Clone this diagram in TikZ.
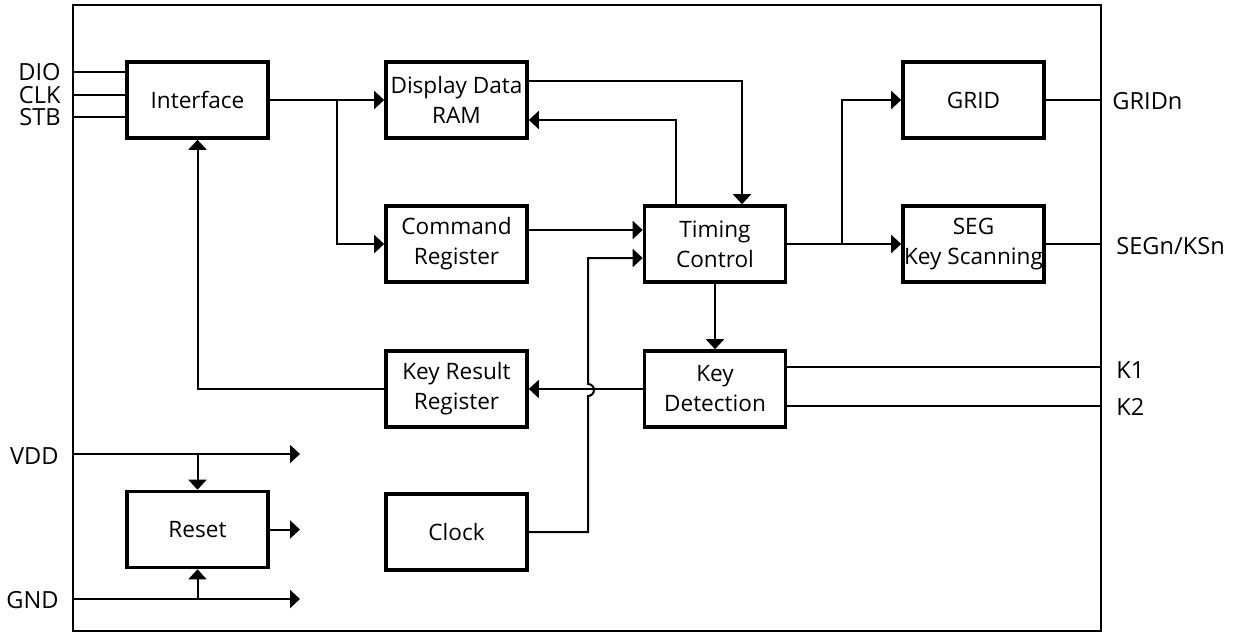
\documentclass[tikz,border=0pt]{standalone}
\usepackage{fontspec}
\setmainfont{Open Sans}
\usetikzlibrary{arrows.meta,calc}

\tikzset{
  blk/.style={draw,line width=1.8pt,minimum width=70.5pt,minimum height=38pt,
    inner sep=0pt,align=center,font=\fontsize{11.3}{15}\selectfont},
  wire/.style={line width=1pt},
  sig/.style={wire,-{Triangle[length=5pt,width=9pt]}},
  pin/.style={inner sep=0pt,font=\fontsize{11.8}{13}\selectfont}
}

\begin{document}
\begin{tikzpicture}[x=0.5pt,y=-0.5pt]
  \useasboundingbox (0,0) rectangle (1236,633);

  % chip outline
  \draw[line width=1pt] (73,5) rectangle (1101,631);
  \coordinate (chipW) at (73,0);
  \coordinate (chipE) at (1101,0);

  % blocks
  \node[blk] (iface)  at (197.5,100) {Interface};
  \node[blk] (ram)    at (456.5,100) {Display Data\\RAM};
  \node[blk] (cmd)    at (456.5,244) {Command\\Register};
  \node[blk] (timing) at (715,244)   {Timing\\Control};
  \node[blk] (grid)   at (973.5,100) {GRID};
  \node[blk] (seg)    at (973.5,244) {SEG\\Key Scanning};
  \node[blk] (krr)    at (456.5,389) {Key Result\\Register};
  \node[blk] (keydet) at (715,389)   {Key\\Detection};
  \node[blk] (reset)  at (197.5,529.5) {Reset};
  \node[blk] (clock)  at (456.5,532) {Clock};

  % serial interface pins
  \foreach \name/\y in {DIO/72,CLK/95,STB/117} {
    \coordinate (p\name) at (73,\y);
    \node[pin,anchor=east] (l\name) at (61,\y) {\name};
    \draw[wire] (p\name) -- (p\name -| iface.west);
  }

  % output and key pins
  \node[pin,anchor=west] (lgrid) at (1112,101) {GRIDn};
  \node[pin,anchor=west] (lseg)  at (1116,246) {SEGn/KSn};
  \draw[wire] (grid.east) -- (grid.east -| chipE);
  \draw[wire] (seg.east) -- (seg.east -| chipE);
  \foreach \name/\dy/\y in {K1/11pt/370,K2/-8.5pt/407} {
    \node[pin,anchor=west] (l\name) at (1116,\y) {\name};
    \draw[wire] ([yshift=\dy]keydet.east) -- ([yshift=\dy]keydet.east -| chipE);
  }

  % data paths
  \coordinate (b1) at (337,100);
  \coordinate (b2) at (842,244);
  \coordinate (hop) at (588,390);
  \draw[sig] (iface.east) -- (ram.west);
  \draw[sig] (b1) |- (cmd.west);
  \draw[sig] ([yshift=9.5pt]ram.east) -| ([xshift=13.5pt]timing.north);
  \draw[sig] ([xshift=-19.5pt]timing.north) |- ([yshift=-10pt]ram.east);
  \draw[sig] ([yshift=7pt]cmd.east) -- ([yshift=7pt]timing.west);
  \draw[sig] (clock.east) -| ($(hop)+(0,6)$) arc[start angle=90,end angle=-90,radius=6]
    |- ([yshift=-7pt]timing.west);
  \draw[sig] (timing.south) -- (keydet.north);
  \draw[sig] (keydet.west) -- (krr.east);
  \draw[sig] (krr.west) -| (iface.south);
  \draw[sig] (timing.east) -- (seg.west);
  \draw[sig] (b2) |- (grid.west);

  % supply
  \coordinate (vdd) at (73,454);
  \coordinate (gnd) at (73,599);
  \coordinate (outE) at (300,0);
  \node[pin,anchor=east] (lvdd) at (59,456) {VDD};
  \node[pin,anchor=east] (lgnd) at (59,600) {GND};
  \draw[sig] (vdd) -- (vdd -| outE);
  \draw[sig] (gnd) -- (gnd -| outE);
  \draw[sig] (reset.north |- vdd) -- (reset.north);
  \draw[sig] (reset.south |- gnd) -- (reset.south);
  \draw[sig] (reset.east) -- (reset.east -| outE);
\end{tikzpicture}
\end{document}
